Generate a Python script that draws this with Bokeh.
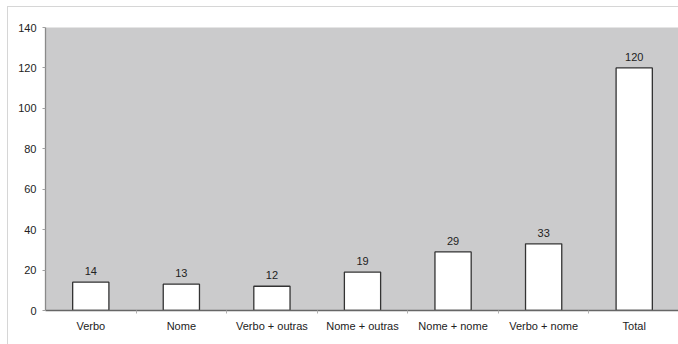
from bokeh.plotting import figure
from bokeh.models import ColumnDataSource, FixedTicker, Range1d, LabelSet
from bokeh.core.properties import value
from bokeh.embed import file_html
from bokeh.resources import INLINE

categories = ["Verbo", "Nome", "Verbo + outras", "Nome + outras", "Nome + nome", "Verbo + nome", "Total"]
values = [14, 13, 12, 19, 29, 33, 120]
y_ticks = [0, 20, 40, 60, 80, 100, 120, 140]

xs = [i + 0.5 for i in range(len(categories))]
source = ColumnDataSource(dict(x=xs, top=values, label=[str(v) for v in values]))

FONT = "Liberation Sans"

p = figure(width=671, height=338, output_backend="svg", toolbar_location=None,
           x_range=Range1d(0, len(categories)), y_range=Range1d(0, 140),
           min_border_left=37, min_border_right=0, min_border_top=20, min_border_bottom=35)
p.margin = (6, 0, 0, 7)
p.styles = {"border-left": "1px solid #d6d6d6", "border-top": "1px solid #d6d6d6"}
p.background_fill_color = "#cbcbcc"
p.border_fill_color = "white"
p.outline_line_color = None
p.grid.grid_line_color = None

p.vbar(x="x", top="top", bottom=0, width=0.4, source=source,
       fill_color="white", line_color="#333333", line_width=1.3)

labels = LabelSet(x="x", y="top", text="label", source=source, text_align="center",
                  text_baseline="bottom", y_offset=7, text_font=value(FONT),
                  text_font_size="11px", text_color="#222222")
p.add_layout(labels)

xa = p.xaxis[0]
xa.ticker = FixedTicker(ticks=xs, minor_ticks=list(range(1, len(categories))))
xa.major_label_overrides = {x: c for x, c in zip(xs, categories)}
xa.major_tick_line_color = None
xa.minor_tick_line_color = "#b0b0b0"
xa.minor_tick_out = 3
xa.minor_tick_in = 0
xa.axis_line_color = "#666666"
xa.axis_line_width = 1.3
xa.major_label_text_font = FONT
xa.major_label_text_font_size = "11px"
xa.major_label_text_color = "#222222"
xa.major_label_standoff = 3

ya = p.yaxis[0]
ya.ticker = FixedTicker(ticks=y_ticks)
ya.minor_tick_line_color = None
ya.major_tick_line_color = "#a0a0a0"
ya.major_tick_out = 3
ya.major_tick_in = 0
ya.axis_line_color = "#8a8a8a"
ya.axis_line_width = 1.3
ya.major_label_text_font = FONT
ya.major_label_text_font_size = "11px"
ya.major_label_text_color = "#222222"
ya.major_label_standoff = 6

open("out.html", "w").write(file_html(p, INLINE))
